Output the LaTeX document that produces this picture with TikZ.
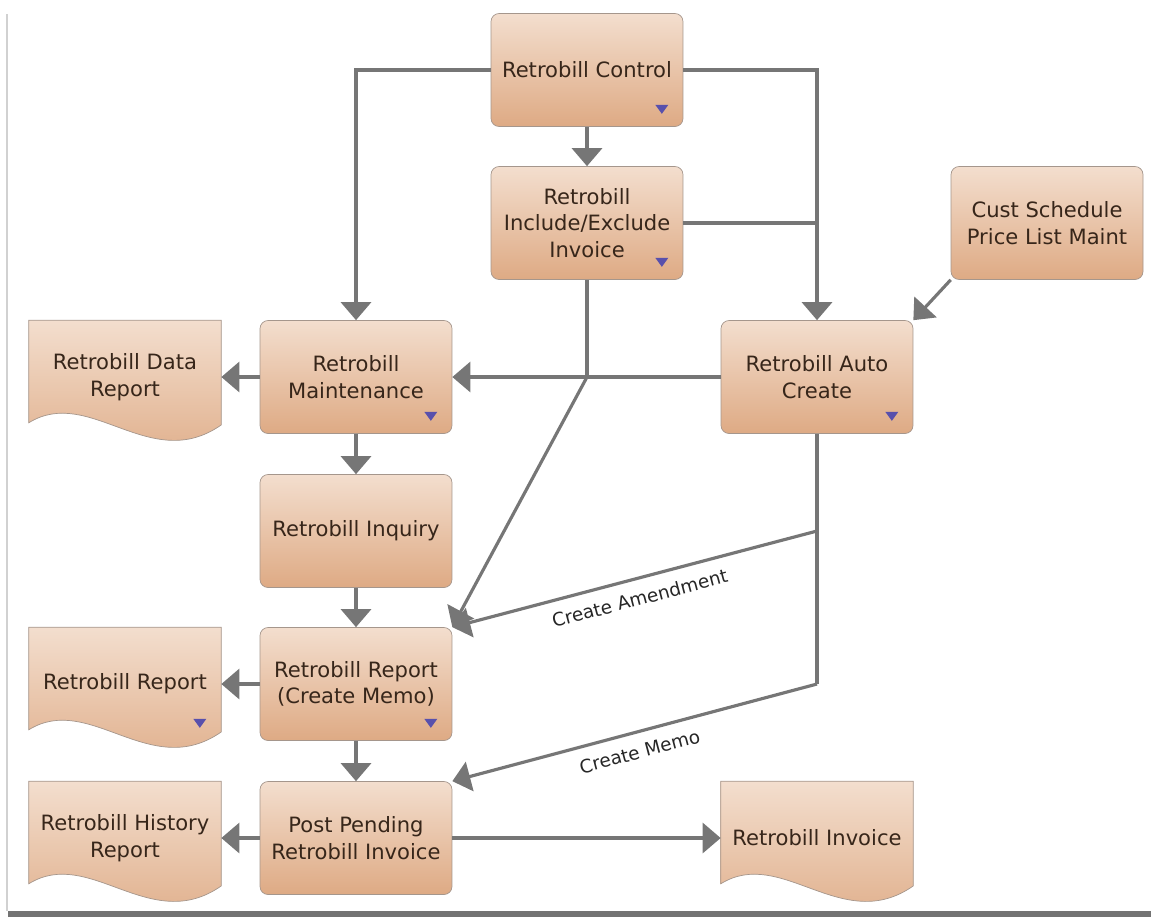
\documentclass[tikz,border=0pt]{standalone}
\usepackage{fontspec}
\setmainfont{DejaVu Sans}
\usetikzlibrary{arrows.meta, positioning, calc, backgrounds}
\definecolor{boxtop}{RGB}{243,222,206}
\definecolor{boxbot}{RGB}{222,170,132}
\definecolor{boxline}{RGB}{165,150,140}
\definecolor{flowgray}{RGB}{118,118,118}
\definecolor{inktext}{RGB}{55,38,26}
\definecolor{markblue}{RGB}{88,80,172}

\tikzset{
  procbox/.style={rounded corners=0.16cm, draw=boxline, top color=boxtop, bottom color=boxbot,
    minimum width=3.84cm, minimum height=2.26cm, align=center, text=inktext,
    font=\fontsize{12}{15}\selectfont, inner sep=2pt},
  docbox/.style={minimum width=3.84cm, minimum height=2.26cm, align=center, text=inktext,
    font=\fontsize{12}{15}\selectfont, inner sep=2pt},
  docshade/.style={draw=boxline, top color=boxtop, bottom color=boxbot},
  link/.style={draw=flowgray, line width=1.8pt},
  flow/.style={link, -{Triangle[length=0.36cm, width=0.6cm]}},
  flowlabel/.style={font=\fontsize{10.5}{12}\selectfont, text=black!85, sloped, below=3pt},
}

% document outline behind a docbox node
\newcommand{\docoutline}[1]{%
  \path[docshade] (#1.north west) -- (#1.north east) -- ($(#1.south east)+(0,-9)$)
    .. controls ($(#1.south east)+(-71,41)$) and ($(#1.south west)+(61,-49)$) .. ($(#1.south west)+(0,-11)$) -- cycle;}
% small drop-down marker
\newcommand{\dropmark}[1]{%
  \fill[markblue] ($(#1.south east)+(-28,-22)$) -- ++(13,0) -- ++(-6.5,9) -- cycle;}

\begin{document}
\begin{tikzpicture}[x=0.02cm, y=-0.02cm]
  \useasboundingbox (0,0) rectangle (1151,917);

  % Frame
  \fill[black!18] (6,14) rectangle (8,911);
  \fill[black!55] (8,911) rectangle (1151,917);

  % Process boxes
  \node[procbox] (ctrl) at (587,70) {Retrobill Control};
  \node[procbox] (incl) at (587,223) {Retrobill\\Include/Exclude\\Invoice};
  \node[procbox] (cust) at (1047,223) {Cust Schedule\\Price List Maint};
  \node[procbox] (maint) at (356,377) {Retrobill\\Maintenance};
  \node[procbox] (auto) at (817,377) {Retrobill Auto\\Create};
  \node[procbox] (inq) at (356,531) {Retrobill Inquiry};
  \node[procbox] (rep) at (356,684) {Retrobill Report\\(Create Memo)};
  \node[procbox] (post) at (356,838) {Post Pending\\Retrobill Invoice};

  % Documents
  \node[docbox] (drep) at (125,377) {Retrobill Data\\Report};
  \node[docbox] (rrep) at (125,684) {Retrobill Report};
  \node[docbox] (hrep) at (125,838) {Retrobill History\\Report};
  \node[docbox] (inv) at (817,838) {Retrobill Invoice};
  \begin{scope}[on background layer]
    \docoutline{drep}
    \docoutline{rrep}
    \docoutline{hrep}
    \docoutline{inv}
  \end{scope}

  % Markers
  \dropmark{ctrl}
  \dropmark{incl}
  \dropmark{maint}
  \dropmark{auto}
  \dropmark{rep}
  \dropmark{rrep}

  % Connectors
  \draw[flow] (ctrl.west) -| (maint.north);
  \draw[flow] (ctrl.east) -| (auto.north);
  \draw[flow] (ctrl) -- (incl);
  \draw[link] (incl.east) -- (incl.east -| auto.north);
  \coordinate (split) at (incl.south |- auto.west);
  \draw[link] (incl.south) -- (split);
  \draw[flow] (split) -- (rep.north east);
  \draw[flow] (auto.west) -- (maint.east);
  \draw[flow] (cust.south west) -- (auto.north east);

  \coordinate (amend) at (auto.south |- inq.center);
  \coordinate (memo) at (auto.south |- rep.center);
  \draw[link] (auto.south) -- (memo);
  \draw[flow] (amend) -- node[flowlabel] {Create Amendment} (rep.north east);
  \draw[flow] (memo) -- node[flowlabel] {Create Memo} (post.north east);

  \draw[flow] (maint.west) -- (drep.east);
  \draw[flow] (maint) -- (inq);
  \draw[flow] (inq) -- (rep);
  \draw[flow] (rep.west) -- (rrep.east);
  \draw[flow] (rep) -- (post);
  \draw[flow] (post.west) -- (hrep.east);
  \draw[flow] (post.east) -- (inv.west);
\end{tikzpicture}
\end{document}
